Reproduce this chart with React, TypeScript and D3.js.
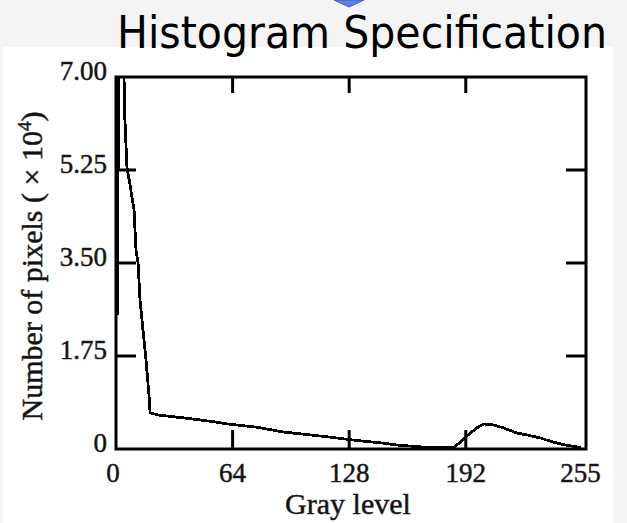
import React from 'react';
import * as d3 from 'd3';

const W = 627;
const H = 523;

// Specified histogram (gray level, number of pixels ×10^4)
const grayLevels = [0.8, 1.4, 4.4, 4.9, 6.0, 7.7, 9.9, 11.0, 12.1, 13.2, 14.8, 16.5, 18.1, 18.7, 23.1, 38.4, 54.3, 61.5, 77.4, 91.7, 108.1, 115.8, 132.3, 146.6, 154.3, 170.7, 183.3, 186.0, 192.1, 198.2, 202.0, 206.4, 212.4, 220.1, 226.2, 232.7, 239.9, 246.5, 253.1, 255];
const pixelCounts = [2.52, 7.0, 7.0, 6.19, 5.31, 4.97, 4.5, 3.74, 3.5, 2.8, 2.24, 1.67, 1.02, 0.68, 0.64, 0.58, 0.51, 0.47, 0.41, 0.32, 0.26, 0.23, 0.16, 0.11, 0.075, 0.03, 0.03, 0.04, 0.23, 0.40, 0.47, 0.46, 0.40, 0.30, 0.26, 0.21, 0.13, 0.075, 0.04, 0.02];

const xTickValues = [0, 64, 128, 192, 255];
const xTickLabels = ['0', '64', '128', '192', '255'];
const yTickValues = [0, 1.75, 3.5, 5.25, 7];
const yTickLabels = ['0', '1.75', '3.50', '5.25', '7.00'];

const titleText = 'Histogram Specification';
const xAxisTitle = 'Gray level';

export default function App() {
  const left = 116, right = 586, top = 77, bottom = 449;
  const x = d3.scaleLinear().domain([0, 258]).range([left, right]);
  const y = d3.scaleLinear().domain([0, 7]).range([bottom, top]);

  const points: [number, number][] = grayLevels.map((g, i) => [g, pixelCounts[i]]);
  const line = d3.line<[number, number]>().x(d => x(d[0])).y(d => y(d[1]));

  const innerX = xTickValues.filter(v => v > 0 && v < 255);
  const innerY = yTickValues.filter(v => v > 0 && v < 7);

  const serif = '"Liberation Serif", "DejaVu Serif", serif';
  const textStroke = { stroke: '#222', strokeWidth: 0.5 };

  return (
    <svg width={W} height={H} style={{ position: 'absolute', left: 0, top: 0 }} xmlns="http://www.w3.org/2000/svg">
      <rect x={0} y={0} width={W} height={H} fill="#f4f4f4" />
      {/* white panel */}
      <rect x={3} y={47} width={610} height={H - 47} fill="#ffffff" />
      {/* arrow tip */}
      <polygon points="334,0 364,0 349,7" fill="#5b7fe3" stroke="#3c5fc9" strokeWidth={1} />
      {/* title */}
      <text x={117} y={48} fontFamily='"DejaVu Sans Condensed", "DejaVu Sans", sans-serif' fontSize={44}
        textLength={490} lengthAdjust="spacingAndGlyphs" fill="#000">{titleText}</text>

      {/* frame */}
      <rect x={left} y={top} width={right - left} height={bottom - top} fill="none" stroke="#000" strokeWidth={3} />
      {/* ticks */}
      {innerY.map(v => (
        <g key={'yt' + v}>
          <line x1={left} x2={left + 20} y1={y(v)} y2={y(v)} stroke="#000" strokeWidth={3} />
          <line x1={right - 20} x2={right} y1={y(v)} y2={y(v)} stroke="#000" strokeWidth={3} />
        </g>
      ))}
      {innerX.map(v => (
        <g key={'xt' + v}>
          <line x1={x(v)} x2={x(v)} y1={bottom} y2={bottom - 19} stroke="#000" strokeWidth={3} />
          <line x1={x(v)} x2={x(v)} y1={top} y2={top + 16} stroke="#000" strokeWidth={3} />
        </g>
      ))}

      {/* data line */}
      <path d={line(points) || ''} fill="none" stroke="#000" strokeWidth={2.8} strokeLinejoin="miter" shapeRendering="crispEdges" />

      {/* tick labels */}
      {yTickValues.map((v, i) => (
        <text key={'yl' + v} x={107} y={y(v) + 3} textAnchor="end" fontFamily={serif} fontSize={27} fill="#111" {...textStroke}>{yTickLabels[i]}</text>
      ))}
      {xTickValues.map((v, i) => (
        <text key={'xl' + v} x={i === 0 ? x(v) - 3 : x(v)} y={482} textAnchor="middle" fontFamily={serif} fontSize={27} fill="#111" {...textStroke}>{xTickLabels[i]}</text>
      ))}

      {/* axis titles */}
      <text x={348} y={514} textAnchor="middle" fontFamily={serif} fontSize={30} fill="#111" {...textStroke}>{xAxisTitle}</text>
      <text transform="translate(42,266) rotate(-90)" textAnchor="middle" fontFamily={serif} fontSize={30} fill="#111" {...textStroke}>
        Number of pixels ( × 10<tspan dy={-11} fontSize={19}>4</tspan><tspan dy={11}>)</tspan>
      </text>
    </svg>
  );
}
